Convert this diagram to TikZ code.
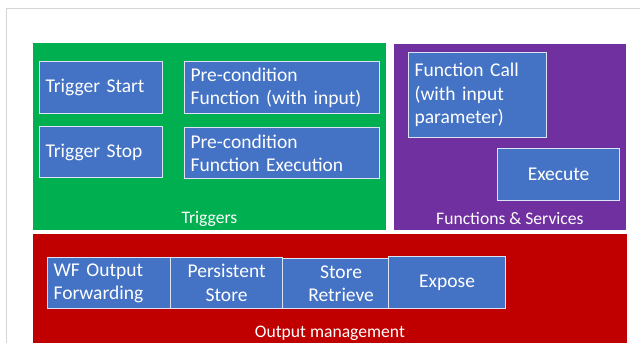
\documentclass[tikz,border=0pt]{standalone}
\usepackage{fontspec}
\setmainfont{Carlito}
\usepackage{tikz}
\usetikzlibrary{positioning}
\definecolor{wfgreen}{RGB}{0,176,80}
\definecolor{wfpurple}{RGB}{112,48,160}
\definecolor{wfred}{RGB}{192,0,0}
\definecolor{wfblue}{RGB}{68,114,196}
\definecolor{wfedge}{RGB}{218,228,242}
\definecolor{wfframe}{RGB}{212,212,212}
\tikzset{
  wfgroup/.style={draw=white, line width=0.8pt, anchor=north west, inner sep=0pt},
  wfbox/.style={draw=wfedge, fill=wfblue, line width=1.2pt, anchor=north west,
    inner xsep=6pt, inner ysep=0pt, text=white,
    font=\fontsize{19.5}{23.5}\selectfont},
  wflabel/.style={text=white, inner sep=0pt, font=\fontsize{17.6}{20}\selectfont}
}
\begin{document}
\begin{tikzpicture}[x=1pt,y=-1pt]
  \useasboundingbox (0,0) rectangle (640,343);
  \draw[wfframe, line width=1pt] (6,343) |- (640,8);
  % groups
  \node[wfgroup, fill=wfgreen, minimum width=354pt, minimum height=188pt] (trig) at (32,42) {};
  \node[wfgroup, fill=wfpurple, minimum width=233pt, minimum height=187pt] (func) at (393,43) {};
  \node[wfgroup, fill=wfred, minimum width=595pt, minimum height=110pt] (outm) at (32,233) {};
  \node[wflabel] (trigLbl) at ([yshift=12pt]trig.south) {Triggers};
  \node[wflabel] (funcLbl) at ([yshift=12pt]func.south) {Functions \& Services};
  \node[wflabel] (outmLbl) at ([yshift=11pt]outm.south) {Output management};
  % triggers
  \node[wfbox, text width=111pt, align=left, minimum height=52pt] (tStart) at (39,61) {Trigger Start};
  \node[wfbox, text width=183pt, align=left, minimum height=52pt] (pcInput) at (184,61) {Pre-condition\\Function (with input)};
  \node[wfbox, text width=111pt, align=left, minimum height=51pt] (tStop) at (39,126) {Trigger Stop};
  \node[wfbox, text width=183pt, align=left, minimum height=51pt] (pcExec) at (184,127) {Pre-condition\\Function Execution};
  % functions
  \node[wfbox, text width=126pt, align=left, minimum height=85pt] (fCall) at (408,52) {Function Call\\(with input\\parameter)};
  \node[wfbox, text width=110pt, align=center, minimum height=52pt] (fExec) at (497,148) {Execute};
  % output
  \node[wfbox, text width=111pt, align=left, minimum height=51pt] (wfOut) at (47,257) {WF Output\\Forwarding};
  \node[wfbox, text width=100pt, align=center, minimum height=51pt] (pStore) at (170,257) {Persistent\\Store};
  \node[wfbox, text width=105pt, align=center, minimum height=50pt] (sRetr) at (282,258) {Store\\Retrieve};
  \node[wfbox, text width=105pt, align=center, minimum height=52pt] (expose) at (388,256) {Expose};
\end{tikzpicture}
\end{document}
